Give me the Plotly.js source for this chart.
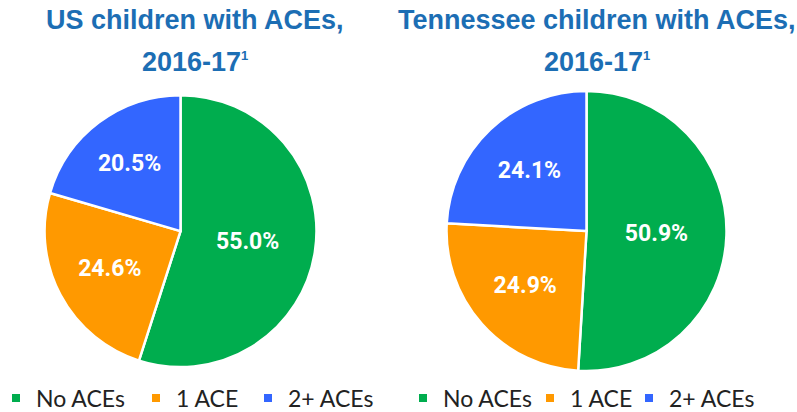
<!DOCTYPE html>
<html>
<head>
<meta charset="utf-8">
<script src="https://cdn.plot.ly/plotly-3.0.1.min.js"></script>
<style>
  html, body { margin: 0; padding: 0; background: #fff; }
  #chart { width: 797px; height: 412px; }
</style>
</head>
<body>
<div id="chart"></div>
<script>
// categories + values (percent)
var categories = ['No ACEs', '1 ACE', '2+ ACEs'];
var usValues = [55.0, 24.6, 20.5];
var tnValues = [50.9, 24.9, 24.1];
var sliceColors = ['#00AD4E', '#FF9900', '#3366FF'];
var usTitle = ['US children with ACEs,', '2016-17<sup><span style="font-size:13px">1</span></sup>'];
var tnTitle = ['Tennessee children with ACEs,', '2016-17<sup><span style="font-size:13px">1</span></sup>'];

// where each legend entry sits (marker centre, px) - US row, then TN row
var usLegendX = [16, 156, 268];
var tnLegendX = [423, 550, 649];

var W = 797, H = 412;

function pieTrace(vals, dom) {
    return {
        type: 'pie',
        labels: categories,
        values: vals,
        sort: false,
        direction: 'clockwise',
        rotation: 0,
        domain: dom,
        showlegend: false,
        marker: { colors: sliceColors, line: { color: '#ffffff', width: 2.5 } },
        texttemplate: '%{value:.1f}%',
        textposition: 'inside',
        insidetextorientation: 'horizontal',
        insidetextfont: { family: 'Roboto', size: 23, color: '#ffffff', weight: 'bold' },
        hoverinfo: 'none'
    };
}

var data = [
    pieTrace(usValues, { x: [0.054, 0.399], y: [0.109, 0.769] }),
    pieTrace(tnValues, { x: [0.5596, 0.9122], y: [0.0995, 0.7791] })
];

var legendFont = { family: 'Lato, "Open Sans", sans-serif', size: 23, color: '#222222' };
var layout = {
    width: W,
    height: H,
    margin: { l: 0, r: 0, t: 0, b: 0, autoexpand: false },
    paper_bgcolor: '#ffffff',
    plot_bgcolor: 'rgba(0,0,0,0)',
    showlegend: true,
    xaxis: { visible: false, range: [0, 1] },
    yaxis: { visible: false, range: [0, 1] },
    annotations: []
};

// legend entries: one small legend per entry so each can sit where the reference has it
var legendIdx = 0;
[usLegendX, tnLegendX].forEach(function (xs) {
    categories.forEach(function (cat, i) {
        legendIdx++;
        var key = legendIdx === 1 ? 'legend' : 'legend' + legendIdx;
        data.push({
            type: 'scatter', mode: 'markers', x: [null], y: [null],
            name: cat, legend: key, hoverinfo: 'none',
            marker: { symbol: 'square', size: 8, color: sliceColors[i] }
        });
        layout[key] = {
            x: (xs[i] - 20) / W, xanchor: 'left',
            y: 1 - 398 / H, yanchor: 'middle',
            font: legendFont, bgcolor: 'rgba(0,0,0,0)',
            itemwidth: 30
        };
    });
});

var titleFont = { family: 'Liberation Sans, Arial', size: 27, color: '#1C6EB4', weight: 'bold' };
[[usTitle, 0.245], [tnTitle, 0.749]].forEach(function (t) {
    layout.annotations.push({ text: t[0][0], x: t[1], y: 1 - 20 / H, xref: 'paper', yref: 'paper',
        xanchor: 'center', yanchor: 'middle', showarrow: false, font: titleFont });
    layout.annotations.push({ text: t[0][1], x: t[1], y: 1 - 62 / H, xref: 'paper', yref: 'paper',
        xanchor: 'center', yanchor: 'middle', showarrow: false, font: titleFont });
});

Plotly.newPlot('chart', data, layout, { displayModeBar: false, staticPlot: true });
</script>
</body>
</html>
